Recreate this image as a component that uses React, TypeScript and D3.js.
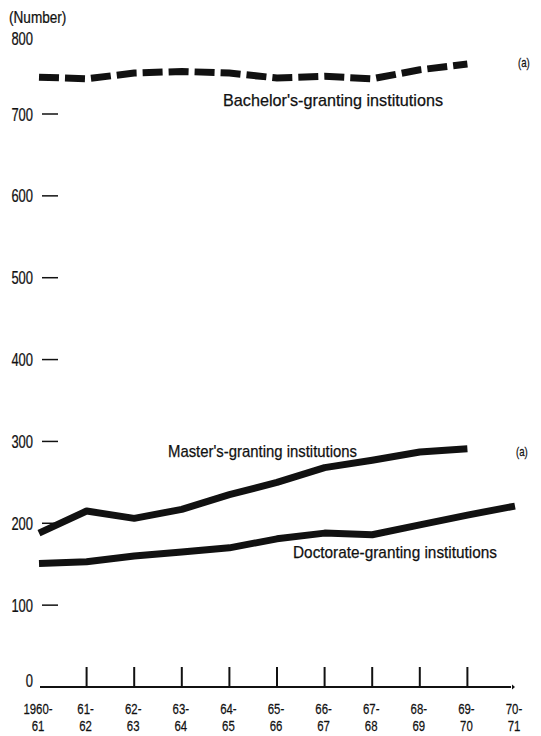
import React from "react";
import * as d3 from "d3";

const years = ["1960-|61", "61-|62", "62-|63", "63-|64", "64-|65", "65-|66", "66-|67", "67-|68", "68-|69", "69-|70", "70-|71"];
const bachelors = [745, 743, 750, 752, 750, 744, 746, 743, 754, 761];
const masters = [188, 215, 206, 217, 235, 250, 268, 277, 287, 291];
const doctorates = [151, 153, 160, 165, 170, 181, 188, 186, 198, 210, 221];
const yTicks = [0, 100, 200, 300, 400, 500, 600, 700, 800];

const W = 541;
const H = 736;
const FONT = "'Liberation Sans', Arial, sans-serif";

function T(props: { x: number; y: number; size: number; anchor?: string; sx?: number; children: React.ReactNode }) {
  const { x, y, size, anchor = "start", sx = 0.8, children } = props;
  return (
    <text
      transform={`translate(${x},${y}) scale(${sx},1)`}
      fontSize={size}
      textAnchor={anchor}
      fill="#111"
      stroke="#111"
      strokeWidth={0.25}
      fontFamily={FONT}
    >
      {children}
    </text>
  );
}

export default function App() {
  const x = d3.scaleLinear().domain([0, 10]).range([39, 515]);
  const y = d3.scaleLinear().domain([0, 700]).range([687, 114]);

  const line = d3
    .line<number>()
    .x((_, i) => x(i))
    .y((d) => y(d));

  return (
    <svg width={W} height={H} style={{ position: "absolute", left: 0, top: 0, background: "#fff" }}>
      {/* Y axis label */}
      <T x={9} y={23} size={16} sx={0.85}>(Number)</T>

      {/* Y ticks and labels */}
      {yTicks.map((t) => (
        <g key={t}>
          <T x={33} y={t === 800 ? y(t) + 12.5 : t === 0 ? y(t) : y(t) + 6.5} size={18} anchor="end" sx={0.72}>
            {t}
          </T>
          {t > 0 && t < 800 && (
            <line x1={42} x2={58} y1={y(t)} y2={y(t)} stroke="#111" strokeWidth={1.5} />
          )}
        </g>
      ))}

      {/* X axis */}
      <line x1={40} x2={511} y1={y(0)} y2={y(0)} stroke="#111" strokeWidth={2.2} />
      <path d={`M ${x(10) - 3},${y(0) - 2.5} L ${x(10)},${y(0)} L ${x(10) - 3},${y(0) + 2.5} Z`} fill="#111" />
      {years.map((lab, i) => {
        const [a, b] = lab.split("|");
        return (
          <g key={lab}>
            {i > 0 && i < 10 && (
              <line x1={x(i)} x2={x(i)} y1={y(0)} y2={y(0) - 20} stroke="#111" strokeWidth={2} />
            )}
            <T x={x(i) - 1} y={714} size={15} anchor="middle" sx={0.76}>{a}</T>
            <T x={x(i) - 1} y={731} size={15} anchor="middle" sx={0.76}>{b}</T>
          </g>
        );
      })}

      {/* Lines */}
      <path d={line(bachelors) || ""} fill="none" stroke="#111" strokeWidth={7} strokeDasharray="20 6" />
      <path d={line(masters) || ""} fill="none" stroke="#111" strokeWidth={7} strokeLinejoin="round" />
      <path d={line(doctorates) || ""} fill="none" stroke="#111" strokeWidth={7} strokeLinejoin="round" />

      {/* Annotations */}
      <text x={223} y={106} fontSize={17} fill="#111" stroke="#111" strokeWidth={0.25} fontFamily={FONT} textLength={220} lengthAdjust="spacingAndGlyphs">
        Bachelor's-granting institutions
      </text>
      <text x={168} y={457} fontSize={17} fill="#111" stroke="#111" strokeWidth={0.25} fontFamily={FONT} textLength={189} lengthAdjust="spacingAndGlyphs">
        Master's-granting institutions
      </text>
      <text x={293} y={558} fontSize={17} fill="#111" stroke="#111" strokeWidth={0.25} fontFamily={FONT} textLength={204} lengthAdjust="spacingAndGlyphs">
        Doctorate-granting institutions
      </text>
      <T x={518} y={67} size={12}>(a)</T>
      <T x={516} y={456} size={12}>(a)</T>
    </svg>
  );
}
